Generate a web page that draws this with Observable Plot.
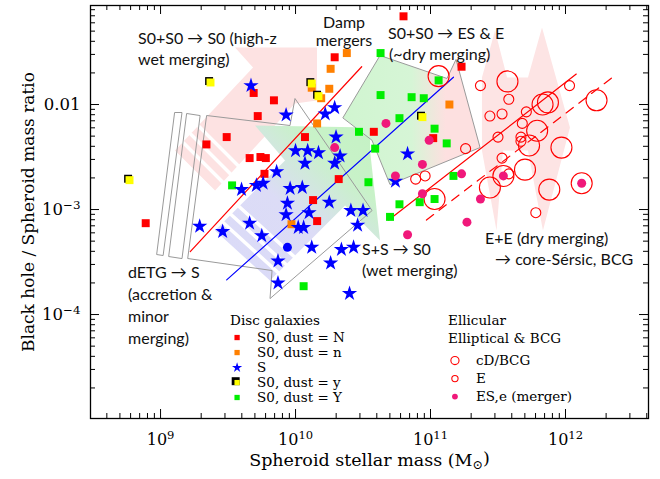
<!DOCTYPE html>
<html><head><meta charset="utf-8">
<script src="https://cdn.jsdelivr.net/npm/d3@7"></script>
<script src="https://cdn.jsdelivr.net/npm/@observablehq/plot@0.6"></script>
<style>body{margin:0;background:#fff}</style>
</head><body><div id="chart"></div>
<script>
// All values: [log10 spheroid stellar mass (Msun), log10 (M_BH / M_sph)]
const s0DustN = [[9.69,-1.89],[9.84,-1.96],[9.72,-2.11],[9.49,-2.31],[9.34,-2.38],[9.66,-2.51],[9.74,-2.50],[9.78,-2.51],[9.77,-2.66],[8.89,-3.13],[10.80,-1.16],[10.29,-1.55],[11.23,-1.64],[10.58,-2.26],[11.02,-2.32],[10.07,-2.31],[10.32,-2.71],[10.13,-2.91],[10.16,-3.11]];
const s0Dustn = [[10.38,-1.51],[10.26,-1.66],[10.25,-1.85],[10.19,-1.94],[10.16,-2.18],[10.12,-1.84],[11.14,-2.00],[9.97,-3.14]];
const s0Dusty = [[9.37,-1.79],[8.77,-2.72],[10.12,-1.80],[10.17,-1.92],[10.94,-2.12]];
const s0DustY = [[10.63,-1.51],[11.06,-1.77],[10.63,-1.91],[10.86,-1.93],[10.95,-1.94],[10.77,-2.13],[10.47,-2.26],[10.59,-2.42],[11.03,-2.23],[11.12,-2.37],[10.54,-2.74],[10.77,-2.95],[10.70,-3.07],[10.92,-2.93],[11.03,-2.90],[11.17,-2.68],[10.06,-3.73],[9.53,-2.77]];
const spirals = [[9.67,-1.82],[9.93,-2.10],[10.22,-2.09],[10.29,-2.03],[10.00,-2.44],[10.09,-2.44],[10.17,-2.46],[10.30,-2.31],[10.33,-2.49],[10.83,-2.47],[9.86,-2.64],[9.60,-2.81],[9.71,-2.77],[9.76,-2.75],[9.94,-2.94],[9.93,-3.05],[9.29,-3.16],[9.46,-3.21],[9.66,-3.13],[9.75,-3.25],[9.87,-3.49],[9.87,-3.70],[10.07,-2.56],[10.29,-2.56],[10.74,-2.73],[9.96,-2.80],[10.05,-2.79],[10.25,-2.93],[10.10,-3.03],[10.02,-3.17],[10.06,-3.17],[10.41,-3.01],[10.50,-3.01],[10.46,-3.15],[10.12,-3.36],[10.34,-3.38],[10.43,-3.36],[10.26,-3.51],[10.40,-3.80]];
const spiralOther = [[9.94,-3.36]];
const mergersESe = [[10.67,-2.18],[10.99,-2.34],[10.29,-2.41],[10.94,-2.57],[10.74,-2.68],[10.94,-2.85],[11.23,-2.66],[11.27,-3.12],[10.83,-3.24],[11.54,-2.68],[11.37,-2.90],[12.12,-2.75]];
const ellipticalE = [[11.37,-1.82],[11.58,-1.95],[11.44,-2.11],[11.53,-2.09],[11.71,-2.07],[11.68,-2.18],[12.03,-1.82],[11.50,-2.31],[11.67,-2.31],[11.67,-2.35],[11.26,-2.42],[11.53,-2.51],[10.89,-2.71],[10.96,-2.68],[11.58,-2.66],[11.78,-3.03]];
const cdBCG = [[11.06,-1.73],[11.57,-1.78],[11.79,-2.25],[11.83,-2.00],[11.87,-1.98],[12.23,-1.96],[11.73,-2.39],[11.97,-2.41],[11.03,-2.90],[11.54,-2.68],[11.44,-2.79],[11.70,-2.62],[11.88,-2.81],[12.12,-2.75]];

// fitted relations (end points)
const relS0 = [[9.22,-3.40],[10.49,-1.64]];
const relS = [[9.49,-3.67],[11.17,-1.74]];
const relE = [[10.69,-3.10],[12.08,-1.71]];
const relEdash = [[10.97,-3.10],[12.38,-1.71]];

// schematic evolutionary arrows (outline vertices)
const arrowWetHighZ = [[9.552,-1.457],[10.159,-1.457],[10.159,-1.962],[9.996,-1.990],[9.404,-2.819],[9.107,-2.438],[9.685,-1.648]];
const arrowWetHighZGaps = [[[9.167,-2.362],[9.463,-2.743]],[[9.226,-2.286],[9.522,-2.667]],[[9.285,-2.210],[9.581,-2.590]]];
const arrowWetSS = [[9.404,-3.2],[9.922,-2.533],[9.70,-2.20],[10.552,-2.219],[10.552,-2.438],[10.626,-3.295],[10.367,-2.962],[9.811,-3.676]];
const arrowWetSSGaps = [[[9.463,-3.124],[9.870,-3.600]],[[9.522,-3.048],[9.930,-3.524]],[[9.581,-2.971],[9.989,-3.448]]];
const arrowDETG = [[9.344,-2.105],[9.959,-2.2],[9.996,-1.943],[10.567,-3.010],[9.811,-3.848],[9.826,-3.581],[9.204,-3.467]];
const arrowDETGtail1 = [[9.107,-2.076],[9.159,-2.076],[9.019,-3.438],[8.974,-3.429]];
const arrowDETGtail2 = [[9.196,-2.086],[9.293,-2.105],[9.159,-3.467],[9.063,-3.448]];
const arrowDry = [[10.352,-2.124],[10.626,-1.533],[11.122,-1.752],[11.189,-1.571],[11.367,-2.410],[10.70,-2.762],[10.567,-2.343]];
const arrowEE = [[11.381,-1.743],[11.478,-1.295],[11.567,-1.743],[11.722,-1.743],[11.826,-1.267],[12.033,-2.219],[11.833,-3.2],[11.722,-2.438],[11.537,-2.438],[11.489,-3.2],[11.381,-2.438]];

// annotation text lines: [text, log x, log y]
const notesLeft = [
  ["S0+S0 \u2192 S0 (high-z", 8.833, -1.371],
  ["wet merging)", 8.833, -1.571],
  ["S0+S0 \u2192 ES & E", 10.685, -1.324],
  ["(~dry merging)", 10.693, -1.524],
  ["dETG \u2192 S", 8.759, -3.600],
  ["(accretion &", 8.759, -3.810],
  ["minor", 8.759, -4.019],
  ["merging)", 8.759, -4.229],
  ["S+S \u2192 S0", 10.493, -3.381],
  ["(wet merging)", 10.493, -3.581],
  ["E+E (dry merging)", 11.404, -3.276],
  ["\u2192 core-S\u00e9rsic, BCG", 11.478, -3.476]
];
const notesCentre = [
  ["Damp", 10.359, -1.219],
  ["mergers", 10.359, -1.390]
];

// legends
const discLegendTitle = ["Disc galaxies", 9.515, -4.057];
const discLegend = [
  ["S0, dust = N", "#ff0000", "square", -4.219],
  ["S0, dust = n", "#ff8000", "square", -4.362],
  ["S", "#0000ff", "star", -4.505],
  ["S0, dust = y", "#ffff00", "square", -4.648],
  ["S0, dust = Y", "#00ee00", "square", -4.790]
];
const discMarkX = 9.567, discTextX = 9.715;
const ellTitle = [["Ellicular", 11.130, -4.057], ["Elliptical & BCG", 11.130, -4.229]];
const ellLegend = [["cD/BCG", "big", -4.438], ["E", "small", -4.610], ["ES,e (merger)", "fill", -4.781]];
const ellMarkX = 11.181, ellTextX = 11.337;

// axes
const xMajor = [9, 10, 11, 12];
const yMajor = [-4, -3, -2];
const yMajorLabels = ["10^\u22124", "10^\u22123", "0.01"];
const xLabel = "Spheroid stellar mass (M_\u2299)";
const yLabel = "Black hole / Spheroid mass ratio";

const W = 660, H = 479, mL = 90, mR = 12, mT = 5, mB = 61;
const pW = W - mL - mR, pH = H - mT - mB;
const xDom = [10 ** 8.481, 10 ** 12.615], yDom = [10 ** -4.99, 10 ** -1.057];
const lg = v => 10 ** v;
const SERIF = "DejaVu Serif", SANS = "Lato";

const minors = (lo, hi) => { const o = []; for (let k = Math.floor(Math.log10(lo)); k <= Math.ceil(Math.log10(hi)); k++) for (let m = 2; m <= 9; m++) { const v = m * 10 ** k; if (v > lo && v < hi) o.push(v); } return o; };
const xMinor = minors(...xDom), yMinor = minors(...yDom);
const xMaj = xMajor.map(lg), yMaj = yMajor.map(lg);

const poly = (v, o) => Plot.line(v, {x: d => lg(d[0]), y: d => lg(d[1]), curve: "linear-closed", ...o});
const seg = (v, o) => Plot.line(v, {x: d => lg(d[0]), y: d => lg(d[1]), ...o});
const gaps = (list) => list.map(v => seg(v, {stroke: "white", strokeWidth: 3.5}));
const XY = {x: d => lg(d[0]), y: d => lg(d[1])};
const LEG = {fontSize: 13.5, fill: "black", fontFamily: SERIF, textAnchor: "start"};

const svg = Plot.plot({
  width: W, height: H, marginLeft: mL, marginRight: mR, marginTop: mT, marginBottom: mB,
  x: {type: "log", domain: xDom, axis: null},
  y: {type: "log", domain: yDom, axis: null},
  style: {background: "white", fontFamily: SERIF},
  marks: [
    poly(arrowWetHighZ, {fill: "#fde2e2", stroke: "none"}),
    gaps(arrowWetHighZGaps),
    poly(arrowEE, {fill: "#fde4e4", stroke: "none"}),
    poly(arrowWetSS, {fill: "url(#gBG)", stroke: "none"}),
    gaps(arrowWetSSGaps),
    poly(arrowDry, {fill: "url(#gDry)", stroke: "#9a9a9a", strokeWidth: 1}),
    poly(arrowDETG, {fill: "none", stroke: "#9a9a9a", strokeWidth: 1}),
    poly(arrowDETGtail1, {fill: "none", stroke: "#9a9a9a", strokeWidth: 1}),
    poly(arrowDETGtail2, {fill: "none", stroke: "#9a9a9a", strokeWidth: 1}),
    seg(relS0, {stroke: "#ff0000", strokeWidth: 1.2}),
    seg(relS, {stroke: "#0000ff", strokeWidth: 1.2}),
    seg(relE, {stroke: "#ff0000", strokeWidth: 1.2}),
    seg(relEdash, {stroke: "#ff0000", strokeWidth: 1.2, strokeDasharray: "9,7"}),
    Plot.dot(cdBCG, {...XY, r: 10.5, stroke: "#ff0000", strokeWidth: 1.1, fill: "none"}),
    Plot.dot(ellipticalE, {...XY, r: 5, stroke: "#ff0000", strokeWidth: 1.1, fill: "none"}),
    Plot.dot(s0DustN, {...XY, symbol: "square", r: 4.5, fill: "#ff0000"}),
    Plot.dot(s0Dustn, {...XY, symbol: "square", r: 4.5, fill: "#ff8000"}),
    Plot.dot(s0Dusty, {...XY, symbol: "square", r: 4.5, fill: "black", dx: -1.4, dy: -1.4}),
    Plot.dot(s0Dusty, {...XY, symbol: "square", r: 4.5, fill: "#ffff00"}),
    Plot.dot(s0DustY, {...XY, symbol: "square", r: 4.5, fill: "#00ee00"}),
    Plot.dot(spirals, {...XY, symbol: "star", r: 4.8, fill: "#0000ff"}),
    Plot.dot(spiralOther, {...XY, r: 4.5, fill: "#0000ff"}),
    Plot.dot(mergersESe, {...XY, r: 4.5, fill: "#f0187a"}),
    // annotations
    Plot.text(notesLeft, {x: d => lg(d[1]), y: d => lg(d[2]), text: d => d[0], textAnchor: "start", fontFamily: SANS, fontSize: 16, fill: "#111"}),
    Plot.text(notesCentre, {x: d => lg(d[1]), y: d => lg(d[2]), text: d => d[0], textAnchor: "middle", fontFamily: SANS, fontSize: 16, fill: "#111"}),
    // disc legend
    Plot.text([discLegendTitle], {x: d => lg(d[1]), y: d => lg(d[2]), text: d => d[0], ...LEG}),
    Plot.dot(discLegend.filter(d => d[0] === "S0, dust = y"), {x: () => lg(discMarkX), y: d => lg(d[3]), symbol: "square", r: 4.5, fill: "black", dx: -1.4, dy: -1.4}),
    Plot.dot(discLegend, {x: () => lg(discMarkX), y: d => lg(d[3]), symbol: d => d[2], r: d => d[2] === "star" ? 5.2 : 4.5, fill: d => d[1]}),
    Plot.text(discLegend, {x: () => lg(discTextX), y: d => lg(d[3]), text: d => d[0], ...LEG}),
    // ellicular legend
    Plot.text(ellTitle, {x: d => lg(d[1]), y: d => lg(d[2]), text: d => d[0], ...LEG}),
    Plot.dot(ellLegend, {x: () => lg(ellMarkX), y: d => lg(d[2]), r: d => d[1] === "big" ? 8.5 : d[1] === "small" ? 5 : 4.3, stroke: d => d[1] === "fill" ? "none" : "#ff0000", fill: d => d[1] === "fill" ? "#f0187a" : "none", strokeWidth: 1.1}),
    Plot.text(ellLegend, {x: () => lg(ellTextX), y: d => lg(d[2]), text: d => d[0], ...LEG}),
    // ticks (inward, all four sides)
    Plot.tickX(xMaj, {x: d => d, stroke: "black", insetTop: pH - 9}),
    Plot.tickX(xMinor, {x: d => d, stroke: "black", insetTop: pH - 5}),
    Plot.tickX(xMaj, {x: d => d, stroke: "black", insetBottom: pH - 9}),
    Plot.tickX(xMinor, {x: d => d, stroke: "black", insetBottom: pH - 5}),
    Plot.tickY(yMaj, {y: d => d, stroke: "black", insetRight: pW - 9}),
    Plot.tickY(yMinor, {y: d => d, stroke: "black", insetRight: pW - 5}),
    Plot.tickY(yMaj, {y: d => d, stroke: "black", insetLeft: pW - 9}),
    Plot.tickY(yMinor, {y: d => d, stroke: "black", insetLeft: pW - 5}),
    Plot.frame({stroke: "black", strokeWidth: 1.3}),
    // tick labels
    Plot.text(xMaj, {x: d => d, y: () => yDom[0], text: d => "10^" + Math.round(Math.log10(d)), dy: 21, fontSize: 16, fill: "black"}),
    Plot.text(yMaj, {x: () => xDom[0], y: d => d, text: (d, i) => yMajorLabels[i], textAnchor: "end", dx: -10, fontSize: 16.5, fill: "black"}),
    // axis titles
    Plot.text([xLabel], {frameAnchor: "bottom", textAnchor: "middle", dy: 47, text: d => d, fontSize: 17.5, fill: "black"}),
    Plot.text([yLabel], {frameAnchor: "left", textAnchor: "middle", dx: -62, rotate: -90, text: d => d, fontSize: 17, fill: "black"})
  ]
});

const NS = "http://www.w3.org/2000/svg";
const defs = document.createElementNS(NS, "defs");
defs.innerHTML = `
<linearGradient id="gBG" x1="0" y1="1" x2="1" y2="0">
  <stop offset="0" stop-color="#dadaf8"/><stop offset="0.45" stop-color="#dcdcf6"/><stop offset="0.75" stop-color="#c8f2c8"/><stop offset="1" stop-color="#c4f2c4"/>
</linearGradient>
<linearGradient id="gDry" x1="0" y1="0" x2="1" y2="0">
  <stop offset="0" stop-color="#d0f5d0"/><stop offset="0.5" stop-color="#d6f5d6"/><stop offset="0.75" stop-color="#fde0e0"/><stop offset="1" stop-color="#fde0e0"/>
</linearGradient>`;
svg.insertBefore(defs, svg.firstChild);

svg.querySelectorAll("text").forEach(t => {
  const s = t.textContent;
  if (s.includes("^")) {
    const [b, e] = s.split("^");
    t.textContent = "";
    const t1 = document.createElementNS(NS, "tspan"); t1.textContent = b;
    const t2 = document.createElementNS(NS, "tspan"); t2.textContent = e;
    t2.setAttribute("dy", "-0.5em"); t2.setAttribute("font-size", "0.72em");
    t.append(t1, t2);
  } else if (s.includes("_")) {
    const [b, rest] = s.split("_");
    t.textContent = "";
    const t1 = document.createElementNS(NS, "tspan"); t1.textContent = b;
    const t2 = document.createElementNS(NS, "tspan"); t2.textContent = rest.slice(0, -1);
    t2.setAttribute("dy", "0.3em"); t2.setAttribute("font-size", "0.72em");
    const t3 = document.createElementNS(NS, "tspan"); t3.textContent = rest.slice(-1);
    t3.setAttribute("dy", "-0.3em");
    t.append(t1, t2, t3);
  }
});
document.getElementById("chart").append(svg);
</script></body></html>
